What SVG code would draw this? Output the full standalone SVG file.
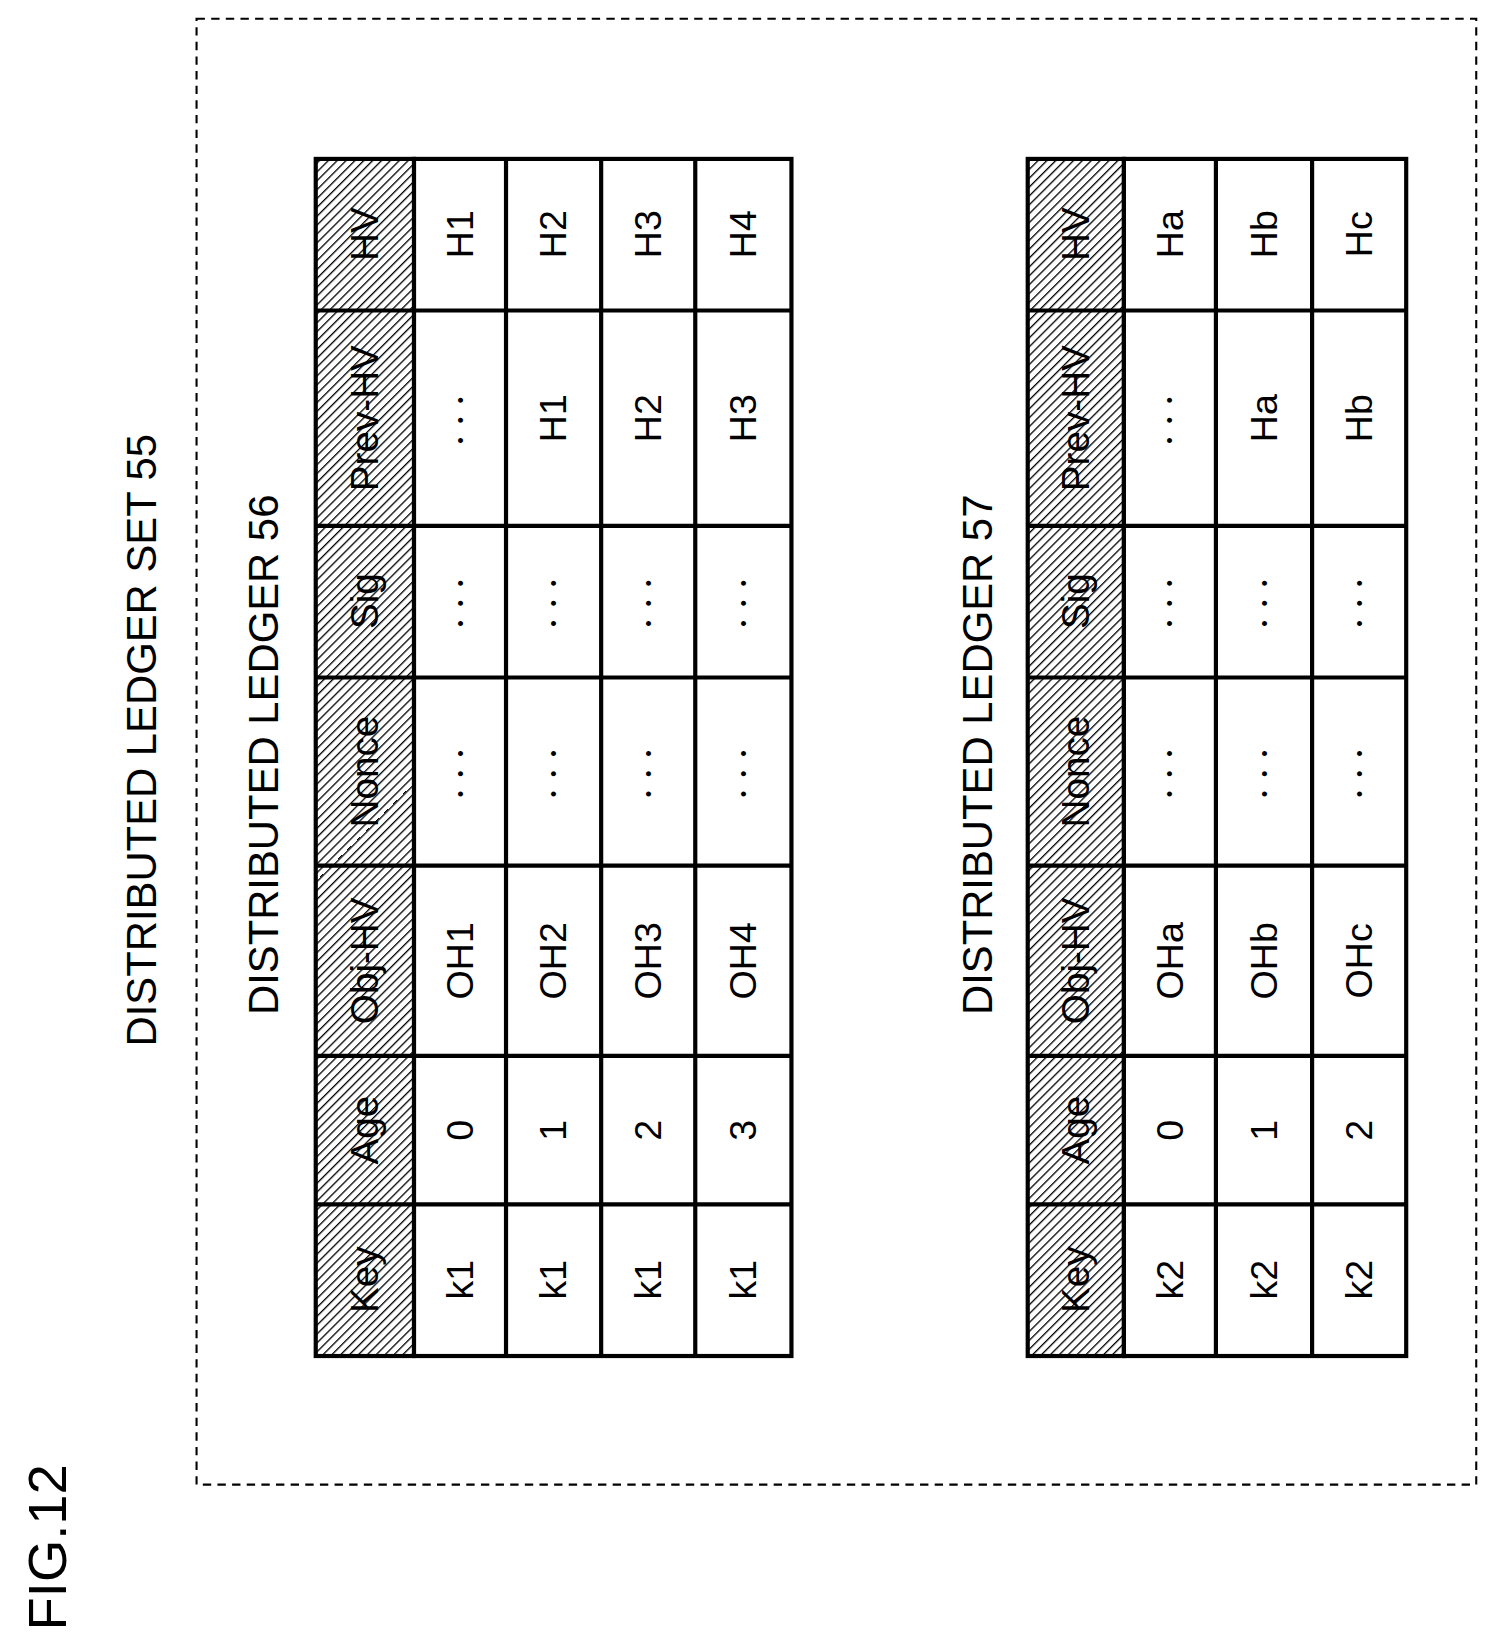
<svg xmlns="http://www.w3.org/2000/svg" width="1501" height="1643" viewBox="0 0 1501 1643">
<style>
text{font-family:"Liberation Sans",Arial,sans-serif;fill:#000;text-anchor:middle;dominant-baseline:central}
.c{font-size:36px}.h{font-size:37px}.d{font-size:18px;letter-spacing:4px}.t{font-size:40px}
.cell{fill:#fff;stroke:#000;stroke-width:4}
.hd{fill:url(#hatch);stroke:#000;stroke-width:4}
</style>
<defs>
<pattern id="hatch" width="6" height="6" patternUnits="userSpaceOnUse" patternTransform="rotate(45)">
<rect width="6" height="6" fill="#fff"/><line x1="0" y1="0" x2="0" y2="6" stroke="#000" stroke-width="2.5"/>
</pattern>
</defs>
<rect width="1501" height="1643" fill="#fff"/>
<g transform="scale(1.0455)">
<g id="fig"><text class="t" style="font-size:52px" transform="translate(45,1480) rotate(-90)">FIG.12</text></g>
<g id="set55">
<rect x="188" y="18" width="1224" height="1402" fill="none" stroke="#000" stroke-width="2" stroke-dasharray="8,6"/>
<text class="t" transform="translate(135,708) rotate(-90)">DISTRIBUTED LEDGER SET 55</text>
</g>
<g id="ledger56">
<text class="t" transform="translate(252,722) rotate(-90)">DISTRIBUTED LEDGER 56</text>
<rect class="hd" x="302" y="152" width="94" height="1145"/>
<rect class="cell" x="396" y="152" width="361" height="1145"/>
<g stroke="#000" stroke-width="4">
<line x1="484" y1="152" x2="484" y2="1297"/><line x1="575" y1="152" x2="575" y2="1297"/><line x1="665" y1="152" x2="665" y2="1297"/>
<line x1="302" y1="297" x2="757" y2="297"/><line x1="302" y1="503" x2="757" y2="503"/><line x1="302" y1="648" x2="757" y2="648"/><line x1="302" y1="828" x2="757" y2="828"/><line x1="302" y1="1010" x2="757" y2="1010"/><line x1="302" y1="1152" x2="757" y2="1152"/>
</g>
<text class="h" transform="translate(349,1224) rotate(-90)">Key</text>
<text class="h" transform="translate(349,1081) rotate(-90)">Age</text>
<text class="h" transform="translate(349,919) rotate(-90)">Obj-HV</text>
<text class="h" transform="translate(349,738) rotate(-90)">Nonce</text>
<text class="h" transform="translate(349,575) rotate(-90)">Sig</text>
<text class="h" transform="translate(349,400) rotate(-90)">Prev-HV</text>
<text class="h" transform="translate(349,224) rotate(-90)">HV</text>
<text class="c" transform="translate(440,1224) rotate(-90)">k1</text><text class="c" transform="translate(529,1224) rotate(-90)">k1</text><text class="c" transform="translate(620,1224) rotate(-90)">k1</text><text class="c" transform="translate(711,1224) rotate(-90)">k1</text>
<text class="c" transform="translate(440,1081) rotate(-90)">0</text><text class="c" transform="translate(529,1081) rotate(-90)">1</text><text class="c" transform="translate(620,1081) rotate(-90)">2</text><text class="c" transform="translate(711,1081) rotate(-90)">3</text>
<text class="c" transform="translate(440,919) rotate(-90)">OH1</text><text class="c" transform="translate(529,919) rotate(-90)">OH2</text><text class="c" transform="translate(620,919) rotate(-90)">OH3</text><text class="c" transform="translate(711,919) rotate(-90)">OH4</text>
<text class="d" transform="translate(440,738) rotate(-90)">• • •</text><text class="d" transform="translate(529,738) rotate(-90)">• • •</text><text class="d" transform="translate(620,738) rotate(-90)">• • •</text><text class="d" transform="translate(711,738) rotate(-90)">• • •</text>
<text class="d" transform="translate(440,575) rotate(-90)">• • •</text><text class="d" transform="translate(529,575) rotate(-90)">• • •</text><text class="d" transform="translate(620,575) rotate(-90)">• • •</text><text class="d" transform="translate(711,575) rotate(-90)">• • •</text>
<text class="d" transform="translate(440,400) rotate(-90)">• • •</text><text class="c" transform="translate(529,400) rotate(-90)">H1</text><text class="c" transform="translate(620,400) rotate(-90)">H2</text><text class="c" transform="translate(711,400) rotate(-90)">H3</text>
<text class="c" transform="translate(440,224) rotate(-90)">H1</text><text class="c" transform="translate(529,224) rotate(-90)">H2</text><text class="c" transform="translate(620,224) rotate(-90)">H3</text><text class="c" transform="translate(711,224) rotate(-90)">H4</text>
</g>
<g id="ledger57">
<text class="t" transform="translate(935,722) rotate(-90)">DISTRIBUTED LEDGER 57</text>
<rect class="hd" x="983" y="152" width="92" height="1145"/>
<rect class="cell" x="1075" y="152" width="270" height="1145"/>
<g stroke="#000" stroke-width="4">
<line x1="1163" y1="152" x2="1163" y2="1297"/><line x1="1255" y1="152" x2="1255" y2="1297"/>
<line x1="983" y1="297" x2="1345" y2="297"/><line x1="983" y1="503" x2="1345" y2="503"/><line x1="983" y1="648" x2="1345" y2="648"/><line x1="983" y1="828" x2="1345" y2="828"/><line x1="983" y1="1010" x2="1345" y2="1010"/><line x1="983" y1="1152" x2="1345" y2="1152"/>
</g>
<text class="h" transform="translate(1029,1224) rotate(-90)">Key</text>
<text class="h" transform="translate(1029,1081) rotate(-90)">Age</text>
<text class="h" transform="translate(1029,919) rotate(-90)">Obj-HV</text>
<text class="h" transform="translate(1029,738) rotate(-90)">Nonce</text>
<text class="h" transform="translate(1029,575) rotate(-90)">Sig</text>
<text class="h" transform="translate(1029,400) rotate(-90)">Prev-HV</text>
<text class="h" transform="translate(1029,224) rotate(-90)">HV</text>
<text class="c" transform="translate(1119,1224) rotate(-90)">k2</text><text class="c" transform="translate(1209,1224) rotate(-90)">k2</text><text class="c" transform="translate(1300,1224) rotate(-90)">k2</text>
<text class="c" transform="translate(1119,1081) rotate(-90)">0</text><text class="c" transform="translate(1209,1081) rotate(-90)">1</text><text class="c" transform="translate(1300,1081) rotate(-90)">2</text>
<text class="c" transform="translate(1119,919) rotate(-90)">OHa</text><text class="c" transform="translate(1209,919) rotate(-90)">OHb</text><text class="c" transform="translate(1300,919) rotate(-90)">OHc</text>
<text class="d" transform="translate(1119,738) rotate(-90)">• • •</text><text class="d" transform="translate(1209,738) rotate(-90)">• • •</text><text class="d" transform="translate(1300,738) rotate(-90)">• • •</text>
<text class="d" transform="translate(1119,575) rotate(-90)">• • •</text><text class="d" transform="translate(1209,575) rotate(-90)">• • •</text><text class="d" transform="translate(1300,575) rotate(-90)">• • •</text>
<text class="d" transform="translate(1119,400) rotate(-90)">• • •</text><text class="c" transform="translate(1209,400) rotate(-90)">Ha</text><text class="c" transform="translate(1300,400) rotate(-90)">Hb</text>
<text class="c" transform="translate(1119,224) rotate(-90)">Ha</text><text class="c" transform="translate(1209,224) rotate(-90)">Hb</text><text class="c" transform="translate(1300,224) rotate(-90)">Hc</text>
</g>
</g>
</svg>
